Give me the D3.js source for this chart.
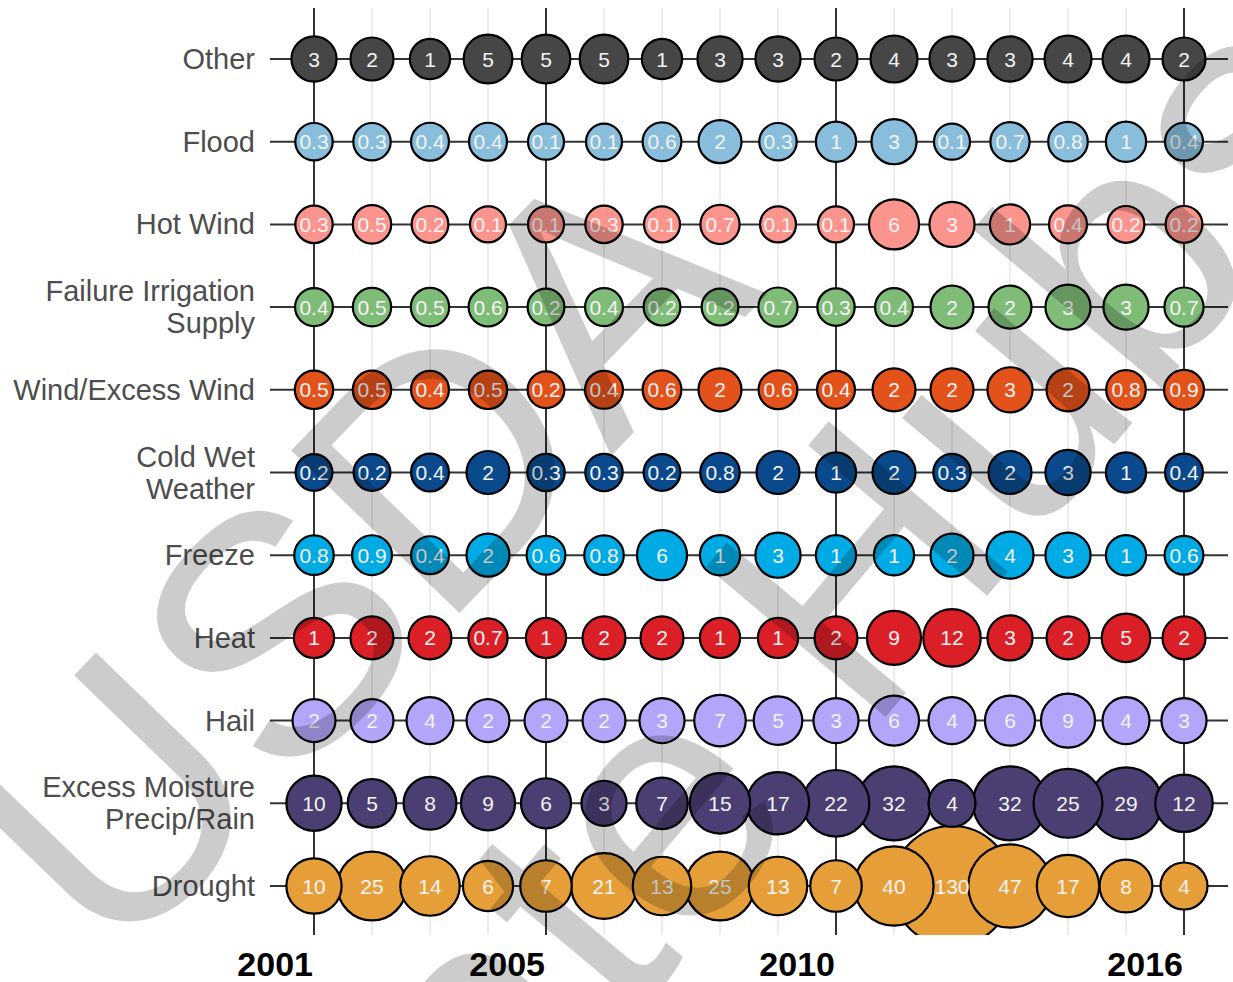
<!DOCTYPE html>
<html>
<head>
<meta charset="utf-8">
<script src="https://cdn.jsdelivr.net/npm/d3@7/dist/d3.min.js"></script>
<style>
  html, body { margin: 0; padding: 0; background: #fff; }
  svg { display: block; }
</style>
</head>
<body>
<div id="chart"></div>
<script>
// Years on the x axis
var years = [2001, 2002, 2003, 2004, 2005, 2006, 2007, 2008, 2009, 2010, 2011, 2012, 2013, 2014, 2015, 2016];
var yearTicks = [2001, 2005, 2010, 2016];

// Cause of loss categories, top to bottom (multi-line labels split on |)
var categories = ['Other', 'Flood', 'Hot Wind', 'Failure Irrigation|Supply', 'Wind/Excess Wind',
    'Cold Wet|Weather', 'Freeze', 'Heat', 'Hail', 'Excess Moisture|Precip/Rain', 'Drought'];

// Values per category, one per year (as labelled in the bubbles)
var other = [3, 2, 1, 5, 5, 5, 1, 3, 3, 2, 4, 3, 3, 4, 4, 2];
var flood = [0.3, 0.3, 0.4, 0.4, 0.1, 0.1, 0.6, 2, 0.3, 1, 3, 0.1, 0.7, 0.8, 1, 0.4];
var hotWind = [0.3, 0.5, 0.2, 0.1, 0.1, 0.3, 0.1, 0.7, 0.1, 0.1, 6, 3, 1, 0.4, 0.2, 0.2];
var failureIrrigation = [0.4, 0.5, 0.5, 0.6, 0.2, 0.4, 0.2, 0.2, 0.7, 0.3, 0.4, 2, 2, 3, 3, 0.7];
var windExcess = [0.5, 0.5, 0.4, 0.5, 0.2, 0.4, 0.6, 2, 0.6, 0.4, 2, 2, 3, 2, 0.8, 0.9];
var coldWet = [0.2, 0.2, 0.4, 2, 0.3, 0.3, 0.2, 0.8, 2, 1, 2, 0.3, 2, 3, 1, 0.4];
var freeze = [0.8, 0.9, 0.4, 2, 0.6, 0.8, 6, 1, 3, 1, 1, 2, 4, 3, 1, 0.6];
var heat = [1, 2, 2, 0.7, 1, 2, 2, 1, 1, 2, 9, 12, 3, 2, 5, 2];
var hail = [2, 2, 4, 2, 2, 2, 3, 7, 5, 3, 6, 4, 6, 9, 4, 3];
var excessMoisture = [10, 5, 8, 9, 6, 3, 7, 15, 17, 22, 32, 4, 32, 25, 29, 12];
var drought = [10, 25, 14, 6, 7, 21, 13, 25, 13, 7, 40, 130, 47, 17, 8, 4];

var series = [other, flood, hotWind, failureIrrigation, windExcess, coldWet,
    freeze, heat, hail, excessMoisture, drought];

// Fill colour per category
var colors = ['#464646', '#88bddc', '#fc948e', '#7fbc77', '#e4521b', '#0a4a8c',
    '#00aae4', '#db1f26', '#b2a5fa', '#4a3e72', '#e69f38'];

var width = 1233, height = 982;
var panel = { left: 270, right: 1228, top: 8, bottom: 935 };
var font = '"Liberation Sans", Arial, sans-serif';

var svg = d3.select('#chart').append('svg')
    .attr('width', width)
    .attr('height', height);

var x = d3.scaleLinear().domain([2001, 2016]).range([314, 1184]);
var y = d3.scalePoint().domain(categories).range([59, 886]);
var r = d3.scalePow().exponent(0.55).domain([0.1, 130]).range([18, 60]);

// Flatten into points, biggest drawn first so small ones sit on top
var points = [];
series.forEach(function(vals, i) {
    vals.forEach(function(v, j) {
        points.push({ cat: categories[i], year: years[j], value: v, color: colors[i] });
    });
});
points.sort(function(a, b) { return b.value - a.value; });

svg.append('clipPath').attr('id', 'panel-clip')
    .append('rect')
    .attr('x', panel.left).attr('y', panel.top)
    .attr('width', panel.right - panel.left)
    .attr('height', panel.bottom - panel.top);

// Minor vertical grid (every year)
svg.append('g').selectAll('line')
    .data(years)
    .enter().append('line')
    .attr('x1', function(d) { return x(d); })
    .attr('x2', function(d) { return x(d); })
    .attr('y1', panel.top).attr('y2', panel.bottom)
    .attr('stroke', '#e8e8e8')
    .attr('stroke-width', 1.6);

// Major vertical grid
svg.append('g').selectAll('line')
    .data(yearTicks)
    .enter().append('line')
    .attr('x1', function(d) { return x(d); })
    .attr('x2', function(d) { return x(d); })
    .attr('y1', panel.top).attr('y2', panel.bottom)
    .attr('stroke', '#333')
    .attr('stroke-width', 2);

// Horizontal row lines
svg.append('g').selectAll('line')
    .data(categories)
    .enter().append('line')
    .attr('x1', panel.left).attr('x2', panel.right)
    .attr('y1', function(d) { return y(d); })
    .attr('y2', function(d) { return y(d); })
    .attr('stroke', '#333')
    .attr('stroke-width', 2);

// Bubbles
var plot = svg.append('g').attr('clip-path', 'url(#panel-clip)');

plot.selectAll('circle')
    .data(points)
    .enter().append('circle')
    .attr('cx', function(d) { return x(d.year); })
    .attr('cy', function(d) { return y(d.cat); })
    .attr('r', function(d) { return r(d.value); })
    .attr('fill', function(d) { return d.color; })
    .attr('stroke', '#000')
    .attr('stroke-width', 2.2);

plot.selectAll('text')
    .data(points)
    .enter().append('text')
    .attr('x', function(d) { return x(d.year); })
    .attr('y', function(d) { return y(d.cat) + 7.5; })
    .attr('text-anchor', 'middle')
    .attr('font-family', font)
    .attr('font-size', '21px')
    .attr('fill', '#f4f4f4')
    .text(function(d) { return String(d.value); });

// Category labels (right aligned, may wrap)
var yLabels = svg.append('g').selectAll('text')
    .data(categories)
    .enter().append('text')
    .attr('text-anchor', 'end')
    .attr('font-family', font)
    .attr('font-size', '29px')
    .attr('fill', '#4d4d4d');

yLabels.each(function(d) {
    var lines = d.split('|');
    var t = d3.select(this);
    var base = y(d) + 10 - (lines.length - 1) * 16;
    lines.forEach(function(line, k) {
        t.append('tspan')
            .attr('x', 255)
            .attr('y', base + k * 32)
            .text(line);
    });
});

// Year labels, right aligned on their gridline
svg.append('g').selectAll('text')
    .data(yearTicks)
    .enter().append('text')
    .attr('x', function(d) { return x(d) - 1; })
    .attr('y', 976)
    .attr('text-anchor', 'end')
    .attr('font-family', font)
    .attr('font-weight', 'bold')
    .attr('font-size', '34px')
    .attr('fill', '#000')
    .text(function(d) { return d; });

// Watermark
var mark = svg.append('g').attr('pointer-events', 'none');
mark.append('text')
    .attr('transform', 'translate(440,633) rotate(-46)')
    .attr('text-anchor', 'middle')
    .attr('font-family', font)
    .attr('font-size', '340px')
    .attr('fill', '#000')
    .attr('fill-opacity', 0.2)
    .text('USDA');
mark.append('text')
    .attr('transform', 'translate(722,912) rotate(-50)')
    .attr('text-anchor', 'middle')
    .attr('font-family', font)
    .attr('font-size', '340px')
    .attr('fill', '#000')
    .attr('fill-opacity', 0.2)
    .text('Climate Hubs');
</script>
</body>
</html>
